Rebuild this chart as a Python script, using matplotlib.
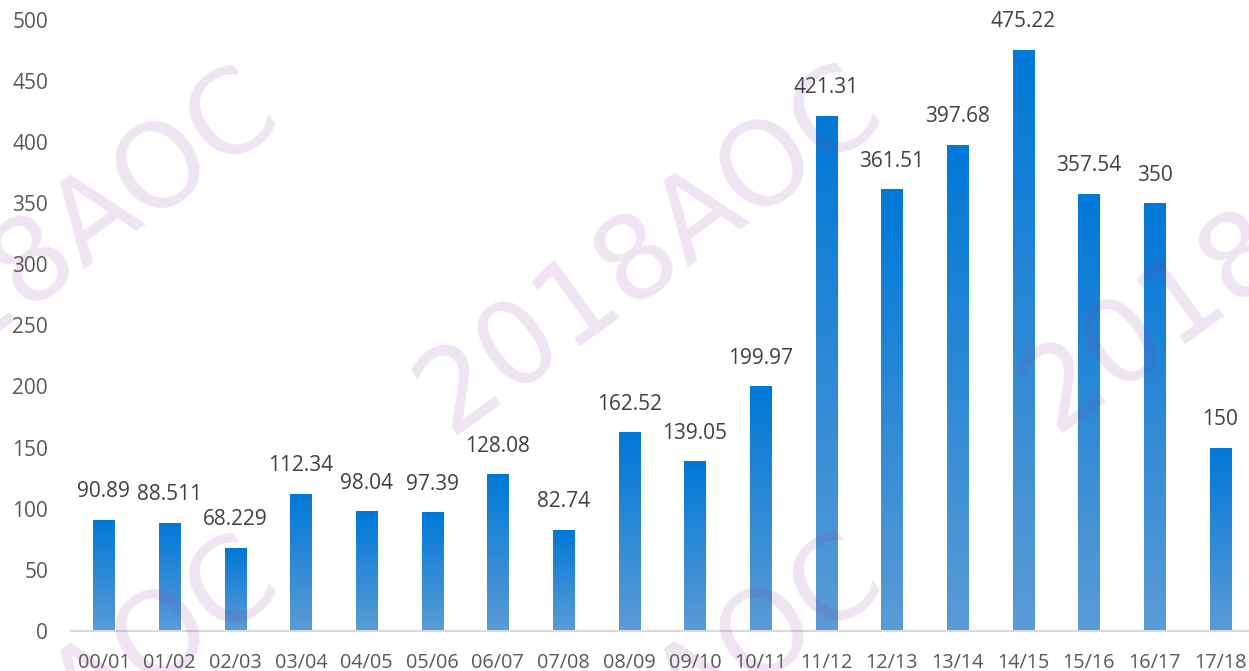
import matplotlib
matplotlib.use("Agg")
import matplotlib.pyplot as plt
import numpy as np
from matplotlib.colors import LinearSegmentedColormap

seasons = ["00/01", "01/02", "02/03", "03/04", "04/05", "05/06", "06/07", "07/08", "08/09",
           "09/10", "10/11", "11/12", "12/13", "13/14", "14/15", "15/16", "16/17", "17/18"]
values = [90.89, 88.511, 68.229, 112.34, 98.04, 97.39, 128.08, 82.74, 162.52,
          139.05, 199.97, 421.31, 361.51, 397.68, 475.22, 357.54, 350, 150]
labels = ["90.89", "88.511", "68.229", "112.34", "98.04", "97.39", "128.08", "82.74", "162.52",
          "139.05", "199.97", "421.31", "361.51", "397.68", "475.22", "357.54", "350", "150"]
yticks = [0, 50, 100, 150, 200, 250, 300, 350, 400, 450, 500]

# watermark centres in figure pixels (from the top-left corner)
wm_pos = [(46, 252), (650, 250), (1255, 248), (46, 720), (650, 718)]

plt.rcParams["font.family"] = ["Open Sans", "DejaVu Sans"]

W, H = 1249, 671
fig = plt.figure(figsize=(W / 100, H / 100), dpi=100)
ax = fig.add_axes([71 / W, 40 / H, 1182 / W, 611.5 / H])

x = np.arange(len(seasons))
bars = ax.bar(x, values, width=0.32, color="none", edgecolor="none", zorder=2)

cmap = LinearSegmentedColormap.from_list("grad", ["#5b9bd5", "#0078d7"])
grad = np.linspace(0, 1, 256).reshape(-1, 1)
for b in bars:
    x0, w, h = b.get_x(), b.get_width(), b.get_height()
    im = ax.imshow(grad, cmap=cmap, aspect="auto", origin="lower",
                   extent=[x0, x0 + w, 0, h], zorder=2)
    im.set_clip_path(b)

for xi, v, lab in zip(x, values, labels):
    ax.annotate(lab, (xi, v), xytext=(0, 12.5), textcoords="offset points",
                ha="center", va="bottom", fontsize=15, color="#404040")

ax.set_xlim(-0.5, len(seasons) - 0.5)
ax.set_ylim(0, 500)
ax.set_yticks(yticks)
ax.set_xticks(x)
ax.set_xticklabels(seasons)
ax.tick_params(axis="both", length=0, colors="#595959", labelsize=15)
ax.tick_params(axis="x", pad=16, labelsize=14.3)
ax.tick_params(axis="y", pad=16.5)
for s in ["top", "right", "left"]:
    ax.spines[s].set_visible(False)
ax.spines["bottom"].set_color("#d9d9d9")
ax.spines["bottom"].set_linewidth(1.5)

for px, py in wm_pos:
    fig.text(px / W, 1 - py / H, "2018AOC", fontsize=83, rotation=36,
             ha="center", va="center", rotation_mode="anchor",
             color=(0.55, 0.25, 0.6), alpha=0.14, zorder=5,
             family=["DejaVu Sans"])

fig.savefig("out.png", dpi=100)
